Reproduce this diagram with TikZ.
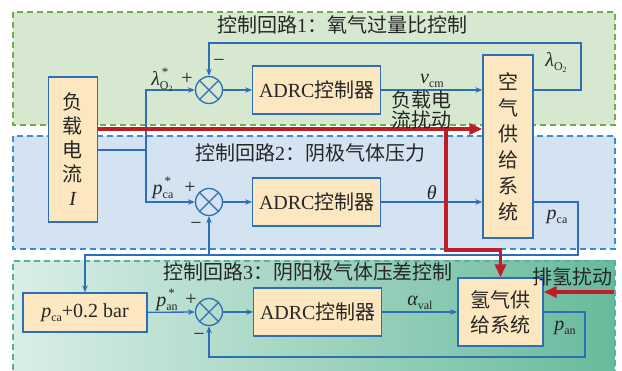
\documentclass[tikz,border=0pt]{standalone}
\usepackage{fontspec}
\setmainfont{Liberation Serif}
\newfontfamily\cjk{Noto Sans CJK SC}
\usetikzlibrary{arrows.meta, positioning, calc}

\newcommand{\zh}[1]{{\cjk #1}}
\newcommand{\sub}[1]{\raisebox{-0.45ex}{\fontsize{12}{12}\selectfont #1}}
\newcommand{\sups}[1]{\raisebox{1.0ex}{\fontsize{13}{13}\selectfont #1}}
\newcommand{\otwo}{O\raisebox{-0.35ex}{\fontsize{8}{8}\selectfont 2}}
\newcommand{\var}[3]{{\itshape #1}\rlap{\hspace{2pt}\sups{#3}}\sub{#2}}

\begin{document}
\begin{tikzpicture}[
    x=1pt, y=-1pt,
    font=\fontsize{20}{24}\selectfont,
    region/.style n args={2}{
        fill=#1, draw=#2, dash pattern=on 6pt off 4pt, line width=1.6pt
    },
    blk/.style={
        rectangle, draw=lineblue, fill=boxfill, line width=1.3pt,
        inner sep=0pt, align=center, text=black!85
    },
    sumc/.style={
        circle, draw=lineblue, line width=1.3pt, minimum size=27pt, inner sep=0pt,
        path picture={
            \draw[lineblue, line width=1.3pt]
                (path picture bounding box.north west) -- (path picture bounding box.south east)
                (path picture bounding box.north east) -- (path picture bounding box.south west);
        }
    },
    wire/.style={draw=lineblue, line width=1.3pt},
    sig/.style={-{Stealth[length=7pt,width=5.5pt]}, draw=lineblue, line width=1.3pt},
    dist/.style={-{Triangle[length=13pt,width=11pt]}, draw=distred, line width=3.2pt},
    lbl/.style={inner sep=0pt, text=black!85},
]

\definecolor{lineblue}{RGB}{46,110,182}
\definecolor{boxfill}{RGB}{252,231,192}
\definecolor{distred}{RGB}{190,30,40}
\definecolor{g1bg}{RGB}{214,232,208}
\definecolor{g1}{RGB}{112,173,71}
\definecolor{b2bg}{RGB}{211,227,242}
\definecolor{b2}{RGB}{62,140,208}
\definecolor{t3l}{RGB}{218,238,230}
\definecolor{t3r}{RGB}{104,186,156}
\definecolor{t3}{RGB}{86,178,160}

\useasboundingbox (0,0) rectangle (622,371);

% ============================================================
% Regions
% ============================================================
\path[region={g1bg}{g1}] (13,12) rectangle (615,125);
\path[region={b2bg}{b2}] (13,136) rectangle (615,249);
\shade[left color=t3l, right color=t3r] (13,261) rectangle (615,390);
\draw[t3, dash pattern=on 6pt off 4pt, line width=1.6pt] (13,390) -- (13,261) -- (615,261) -- (615,390);

\node[lbl] (t1) at (342,25) {\zh{控制回路}1\zh{：氧气过量比控制}};
\node[lbl] (t2) at (310,153) {\zh{控制回路}2\zh{：阴极气体压力}};
\node[lbl] (t3) at (308,272) {\zh{控制回路}3\zh{：阴阳极气体压差控制}};

% ============================================================
% Blocks
% ============================================================
\node[blk, minimum width=49pt, minimum height=145pt] (load) at (73,149.5)
    {\zh{负}\\\zh{载}\\\zh{电}\\\zh{流}\\\textit{I}};

\node[sumc] (s1) at (209,90) {};
\node[blk, minimum width=128pt, minimum height=48pt, right=29pt of s1] (a1) {ADRC\zh{控制器}};
\node[blk, minimum width=50pt, minimum height=183pt, font=\fontsize{20}{26}\selectfont] (air) at (508,146.5)
    {\zh{空}\\\zh{气}\\\zh{供}\\\zh{给}\\\zh{系}\\\zh{统}};

\node[sumc] (s2) at (209,202) {};
\node[blk, minimum width=128pt, minimum height=48pt, right=29pt of s2] (a2) {ADRC\zh{控制器}};

\node[blk, minimum width=124pt, minimum height=39pt] (bar) at (85,312.5) {\var{p}{ca}{}+0.2 bar};
\node[sumc] (s3) at (209,312) {};
\node[blk, minimum width=128pt, minimum height=48pt, right=30pt of s3] (a3) {ADRC\zh{控制器}};
\node[blk, minimum width=85pt, minimum height=68pt, font=\fontsize{20}{25}\selectfont] (h2) at (500.5,312)
    {\zh{氢气供}\\\zh{给系统}};

% ============================================================
% Signals
% ============================================================
\coordinate (jn) at (146,150);
\draw[wire] (load.east |- jn) -- (jn);
\draw[sig] (jn) |- (s1.west);
\draw[sig] (jn) |- (s2.west);

\draw[sig] (s1) -- (a1);
\draw[sig] (a1.east) -- (a1.east -| air.west)
    node[midway, above=2pt, lbl] {\var{v}{cm}{}};
\coordinate (fb1) at (581,43);
\draw[sig] (air.east |- s1) -| (fb1) -| (s1.north);

\draw[sig] (s2) -- (a2);
\draw[sig] (a2.east) -- (a2.east -| air.west)
    node[midway, above=2pt, lbl] {\textit{θ}};
\coordinate (fb2) at (578,255);
\draw[sig] (air.east |- s2) -| (fb2) -| (s2.south);
\draw[sig] (s2.south |- fb2) -| (bar.north);

\draw[sig] (bar) -- (s3);
\draw[sig] (s3) -- (a3);
\draw[sig] (a3.east) -- (a3.east -| h2.west)
    node[midway, above=2pt, lbl] {\var{α}{val}{}};
\coordinate (fb3) at (585,357);
\draw[sig] (h2.east |- s3) -| (fb3) -| (s3.south);

% signs and signal names
\node[lbl] (l1) at (162,80) {\var{λ}{\otwo}{*}};
\node[lbl] (p1) at (187,79) {+};
\node[lbl] (m1) at (219,63) {−};
\node[lbl] (o1) at (556,62) {\var{λ}{\otwo}{}};

\node[lbl] (l2) at (163,188) {\var{p}{ca}{*}};
\node[lbl] (p2) at (190,188) {+};
\node[lbl] (m2) at (196,226) {−};
\node[lbl] (o2) at (557,217) {\var{p}{ca}{}};

\node[lbl] (l3) at (167,300) {\var{p}{an}{*}};
\node[lbl] (p3) at (191,300) {+};
\node[lbl] (m3) at (199,337) {−};
\node[lbl] (o3) at (565,328) {\var{p}{an}{}};

% ============================================================
% Disturbances
% ============================================================
\coordinate (rd) at (446,129);
\coordinate (rt) at (446,250);
\draw[dist] (load.east |- rd) -- (air.west |- rd);
\draw[dist] (rd) -- (rt) -| (h2.north);
\node[lbl, align=center, font=\fontsize{20}{17}\selectfont] (dl) at (421,110) {\zh{负载电}\\\zh{流扰动}};

\coordinate (hx) at (614,292);
\draw[dist] (hx) -- (h2.east |- hx);
\node[lbl] (dh) at (572,277) {\zh{排氢扰动}};

\end{tikzpicture}
\end{document}
